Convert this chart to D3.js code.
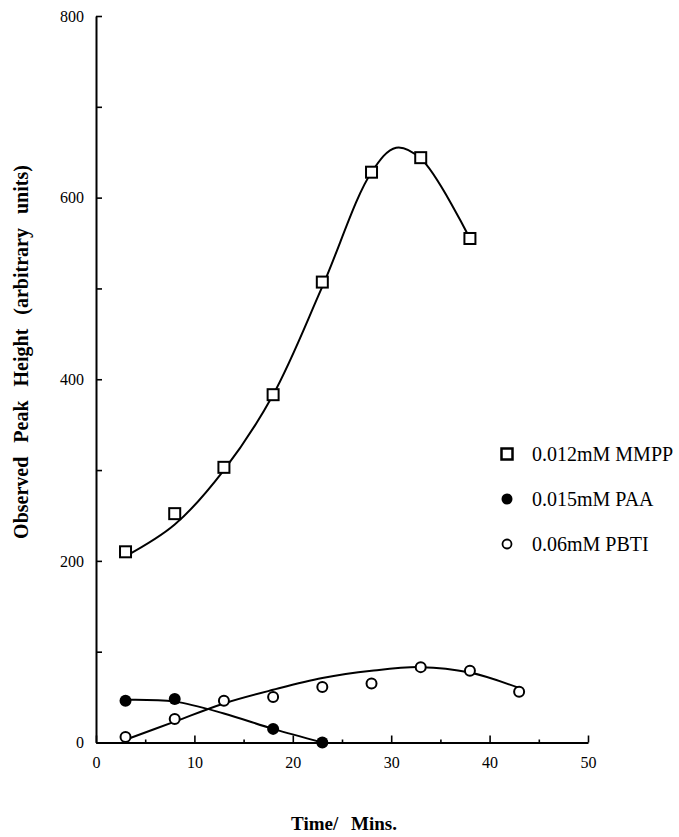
<!DOCTYPE html>
<html>
<head>
<meta charset="utf-8">
<script src="https://cdn.jsdelivr.net/npm/d3@7"></script>
<style>
  body { margin: 0; background: #fff; }
  text { font-family: "Liberation Serif", "Times New Roman", serif; fill: #000; }
</style>
</head>
<body>
<div id="chart"></div>
<script>
// measured points (time in mins)
var mmppTime = [3, 8, 13, 18, 23, 28, 33, 38];
var mmppPeak = [210, 252, 303, 383, 507, 628, 644, 555];
var paaTime = [3, 8, 18, 23];
var paaPeak = [46, 48, 15, 0];
var pbtiTime = [3, 8, 13, 18, 23, 28, 33, 38, 43];
var pbtiPeak = [6, 26, 46, 50, 61, 65, 83, 79, 56];

// hand drawn fitted curves
var mmppFitTime = [3, 8, 13, 18, 23, 28, 30.5, 33, 38];
var mmppFitPeak = [205, 240, 300, 383, 502, 628, 655, 643, 555];
var paaFitTime = [3, 8, 13, 18, 23];
var paaFitPeak = [47, 45, 32, 15, 0];
var pbtiFitTime = [3, 8, 13, 18, 23, 28, 33, 38, 43];
var pbtiFitPeak = [3, 23, 43, 58, 71, 79, 83, 77, 60];

var legendLabels = ["0.012mM MMPP", "0.015mM PAA", "0.06mM PBTI"];
var xTicks = [0, 10, 20, 30, 40, 50];
var xMinorTicks = [5, 15, 25, 35, 45];
var yTicks = [0, 100, 200, 300, 400, 500, 600, 700, 800];

var W = 679, H = 837;
var svg = d3.select("#chart").append("svg")
    .attr("width", W)
    .attr("height", H);

var x = d3.scaleLinear().domain([0, 50]).range([96, 588]);
var y = d3.scaleLinear().domain([0, 800]).range([742.5, 16]);

// x axis, minor ticks then major ticks with labels
svg.append("g")
    .attr("transform", "translate(0," + y(0) + ")")
    .call(d3.axisBottom(x).tickValues(xMinorTicks).tickSize(-3).tickSizeOuter(0).tickFormat(""))
    .call(g => g.select(".domain").remove());
var xAxis = svg.append("g")
    .attr("transform", "translate(0," + y(0) + ")")
    .call(d3.axisBottom(x).tickValues(xTicks).tickSize(-7).tickSizeOuter(0).tickPadding(14));
xAxis.selectAll("text").style("font-size", "16px");

// y axis
var yAxis = svg.append("g")
    .attr("transform", "translate(" + x(0) + ",0)")
    .call(d3.axisLeft(y).tickValues(yTicks).tickSize(-6).tickSizeOuter(0).tickPadding(12)
        .tickFormat(function(d) { return d % 200 === 0 ? d : ""; }));
yAxis.selectAll("text").style("font-size", "16px");

svg.selectAll(".domain").attr("stroke-width", 2);
svg.selectAll(".tick line").attr("stroke-width", 1.6);

// axis titles
svg.append("text")
    .attr("transform", "translate(28," + 352 + ") rotate(-90)")
    .attr("text-anchor", "middle")
    .style("font-size", "20px")
    .style("font-weight", "bold")
    .style("word-spacing", "9px")
    .text("Observed Peak Height (arbitrary units)");

svg.append("text")
    .attr("x", 344)
    .attr("y", 830)
    .attr("text-anchor", "middle")
    .style("font-size", "19px")
    .style("font-weight", "bold")
    .style("word-spacing", "8px")
    .text("Time/ Mins.");

// fitted curves
var line = d3.line()
    .x(function(d) { return x(d[0]); })
    .y(function(d) { return y(d[1]); })
    .curve(d3.curveCatmullRom.alpha(0.5));

function curve(ts, vs) {
    svg.append("path")
        .datum(d3.zip(ts, vs))
        .attr("d", line)
        .attr("fill", "none")
        .attr("stroke", "#000")
        .attr("stroke-width", 2);
}
curve(mmppFitTime, mmppFitPeak);
curve(paaFitTime, paaFitPeak);
curve(pbtiFitTime, pbtiFitPeak);

// markers
svg.selectAll(".mmpp")
    .data(d3.zip(mmppTime, mmppPeak))
    .enter().append("rect")
    .attr("x", function(d) { return x(d[0]) - 5.5; })
    .attr("y", function(d) { return y(d[1]) - 5.5; })
    .attr("width", 11)
    .attr("height", 11)
    .attr("fill", "#fff")
    .attr("stroke", "#000")
    .attr("stroke-width", 2);

svg.selectAll(".pbti")
    .data(d3.zip(pbtiTime, pbtiPeak))
    .enter().append("circle")
    .attr("cx", function(d) { return x(d[0]); })
    .attr("cy", function(d) { return y(d[1]); })
    .attr("r", 5)
    .attr("fill", "#fff")
    .attr("stroke", "#000")
    .attr("stroke-width", 2);

svg.selectAll(".paa")
    .data(d3.zip(paaTime, paaPeak))
    .enter().append("circle")
    .attr("cx", function(d) { return x(d[0]); })
    .attr("cy", function(d) { return y(d[1]); })
    .attr("r", 6)
    .attr("fill", "#000");

// legend
var legend = svg.append("g");
var ly = [454, 499, 544];
legendLabels.forEach(function(lab, i) {
    var g = legend.append("g").attr("transform", "translate(507," + ly[i] + ")");
    if (i === 0) {
        g.append("rect").attr("x", -5.5).attr("y", -5.5).attr("width", 11).attr("height", 11)
            .attr("fill", "#fff").attr("stroke", "#000").attr("stroke-width", 2.5);
    } else if (i === 1) {
        g.append("circle").attr("r", 5.5).attr("fill", "#000");
    } else {
        g.append("circle").attr("r", 4.5).attr("fill", "#fff").attr("stroke", "#000").attr("stroke-width", 1.8);
    }
    g.append("text")
        .attr("x", 25)
        .attr("y", 7)
        .style("font-size", "20px")
        .text(lab);
});
</script>
</body>
</html>
